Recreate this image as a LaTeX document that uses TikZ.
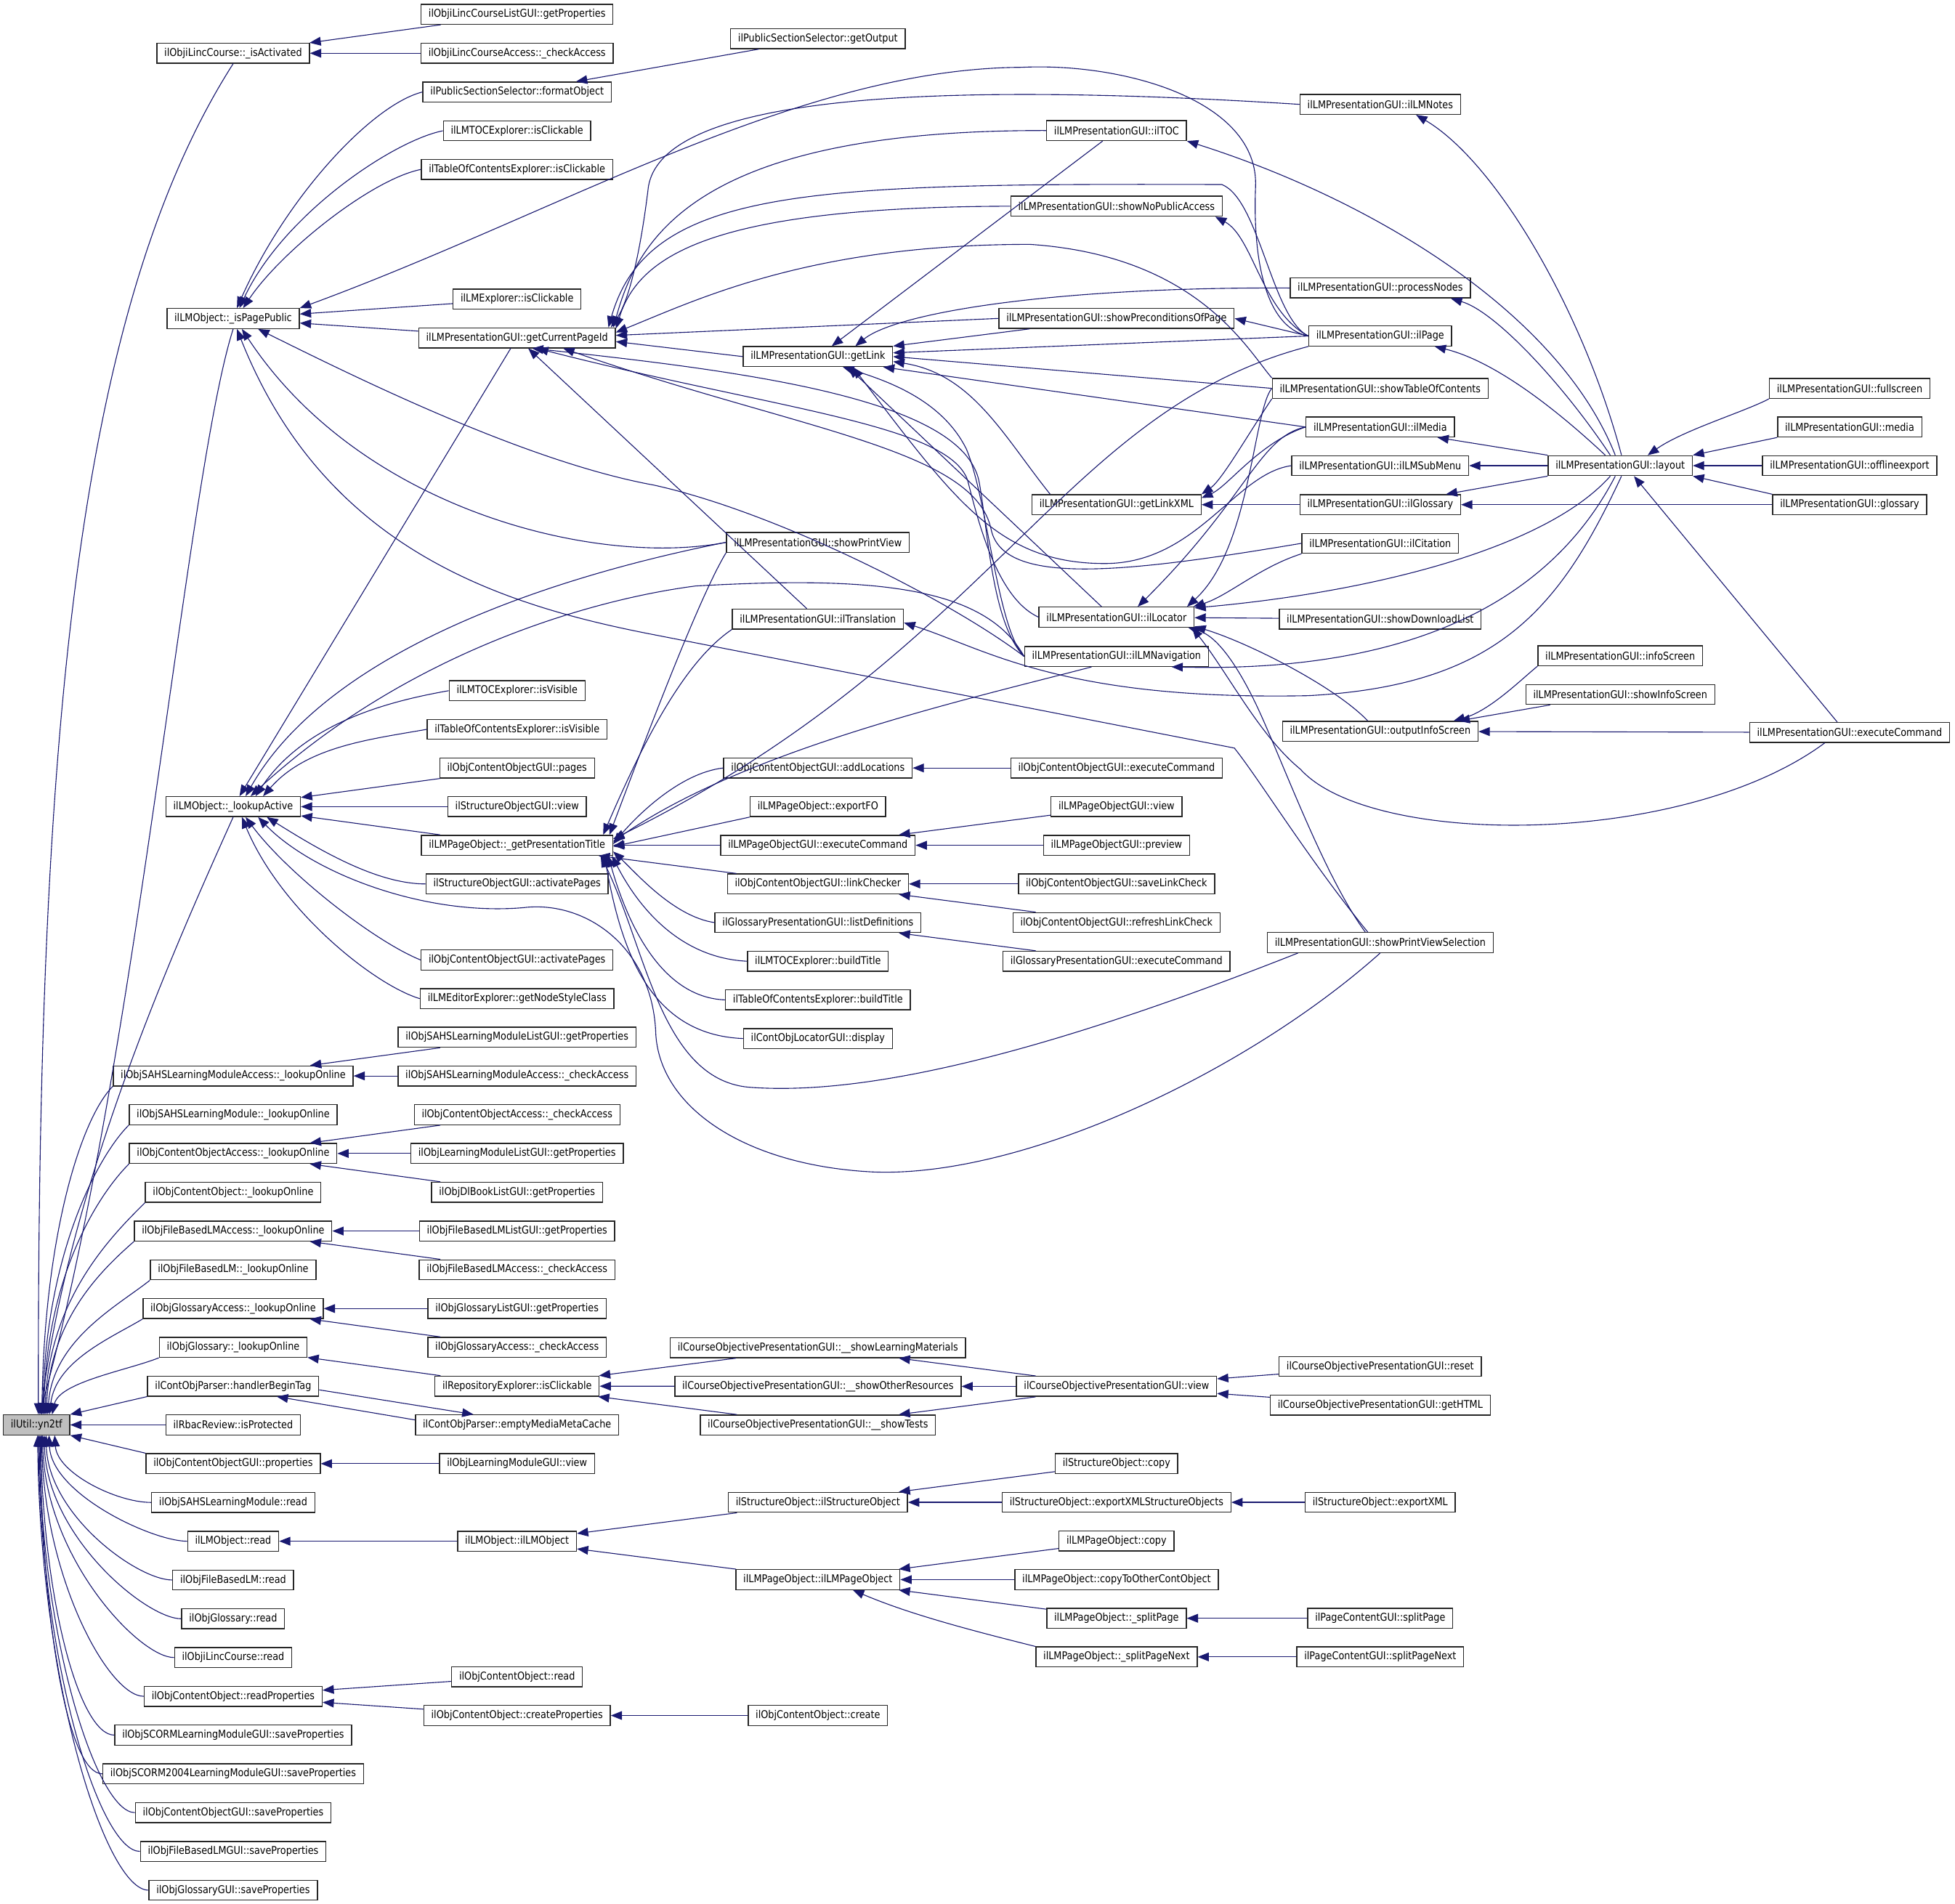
\documentclass[tikz,border=0pt]{standalone}
\usepackage{fontspec}
\newfontfamily\nodefont{DejaVu Sans}[FakeStretch=0.87]
\usetikzlibrary{arrows.meta}
\definecolor{navy}{RGB}{25,25,112}
\tikzset{
 fnode/.style={draw=black!85, fill=white, line width=0.8pt, inner xsep=6pt, inner ysep=0pt, minimum height=16pt, font=\nodefont\fontsize{8.6pt}{10pt}\selectfont},
 cedge/.style={draw=navy, line width=0.65pt, -{Triangle[length=9pt,width=7pt]}},
}
\newcommand\mknd[4]{\node[fnode] (#1) at (#2,-#3) {#4};}
\begin{document}
\begin{tikzpicture}[x=1pt,y=1pt]
\useasboundingbox (0,0) rectangle (1568,-1527);
% ---------- column 1
\node[fnode, fill=black!25] (u) at (29.3,-1142.9) {ilUtil::yn2tf};
% ---------- column 2
\mknd{isAct}{187}{42.7}{ilObjiLincCourse::\_isActivated}
\mknd{isPub}{187}{255.5}{ilLMObject::\_isPagePublic}
\mknd{lookAct}{187}{647}{ilLMObject::\_lookupActive}
\mknd{sahsAccLO}{187}{863}{ilObjSAHSLearningModuleAccess::\_lookupOnline}
\mknd{sahsLO}{187}{894.1}{ilObjSAHSLearningModule::\_lookupOnline}
\mknd{coAccLO}{187}{925.2}{ilObjContentObjectAccess::\_lookupOnline}
\mknd{coLO}{187}{956.3}{ilObjContentObject::\_lookupOnline}
\mknd{fbAccLO}{187}{987.4}{ilObjFileBasedLMAccess::\_lookupOnline}
\mknd{fbLO}{187}{1018.5}{ilObjFileBasedLM::\_lookupOnline}
\mknd{gloAccLO}{187}{1049.6}{ilObjGlossaryAccess::\_lookupOnline}
\mknd{gloLO}{187}{1080.7}{ilObjGlossary::\_lookupOnline}
\mknd{hbt}{187}{1111.8}{ilContObjParser::handlerBeginTag}
\mknd{rbac}{187}{1142.9}{ilRbacReview::isProtected}
\mknd{coguiProp}{187}{1174}{ilObjContentObjectGUI::properties}
\mknd{sahsRead}{187}{1205.1}{ilObjSAHSLearningModule::read}
\mknd{lmoRead}{187}{1236.2}{ilLMObject::read}
\mknd{fbRead}{187}{1267.3}{ilObjFileBasedLM::read}
\mknd{gloRead}{187}{1298.4}{ilObjGlossary::read}
\mknd{lincRead}{187}{1329.5}{ilObjiLincCourse::read}
\mknd{readProp}{187}{1360.6}{ilObjContentObject::readProperties}
\mknd{scormSave}{187}{1391.7}{ilObjSCORMLearningModuleGUI::saveProperties}
\mknd{scorm4Save}{187}{1422.8}{ilObjSCORM2004LearningModuleGUI::saveProperties}
\mknd{coguiSave}{187}{1453.9}{ilObjContentObjectGUI::saveProperties}
\mknd{fbguiSave}{187}{1485}{ilObjFileBasedLMGUI::saveProperties}
\mknd{gloguiSave}{187}{1516.1}{ilObjGlossaryGUI::saveProperties}
% ---------- column 3
\mknd{lincListGP}{414.7}{11.5}{ilObjiLincCourseListGUI::getProperties}
\mknd{lincAcc}{414.7}{42.7}{ilObjiLincCourseAccess::\_checkAccess}
\mknd{formatObj}{414.7}{73.8}{ilPublicSectionSelector::formatObject}
\mknd{lmtocClick}{414.7}{104.9}{ilLMTOCExplorer::isClickable}
\mknd{tocClick}{414.7}{135.9}{ilTableOfContentsExplorer::isClickable}
\mknd{lmexpClick}{414.7}{240}{ilLMExplorer::isClickable}
\mknd{gcp}{414.7}{271}{ilLMPresentationGUI::getCurrentPageId}
\mknd{lmtocVis}{414.7}{554}{ilLMTOCExplorer::isVisible}
\mknd{tocVis}{414.7}{585}{ilTableOfContentsExplorer::isVisible}
\mknd{coguiPages}{414.7}{616}{ilObjContentObjectGUI::pages}
\mknd{sogView}{414.7}{647}{ilStructureObjectGUI::view}
\mknd{gpt}{414.7}{678}{ilLMPageObject::\_getPresentationTitle}
\mknd{sogAct}{414.7}{709}{ilStructureObjectGUI::activatePages}
\mknd{coguiAct}{414.7}{770}{ilObjContentObjectGUI::activatePages}
\mknd{lmeditStyle}{414.7}{801}{ilLMEditorExplorer::getNodeStyleClass}
\mknd{sahsListGP}{414.7}{832}{ilObjSAHSLearningModuleListGUI::getProperties}
\mknd{sahsAcc}{414.7}{863}{ilObjSAHSLearningModuleAccess::\_checkAccess}
\mknd{coAcc}{414.7}{894.1}{ilObjContentObjectAccess::\_checkAccess}
\mknd{lmListGP}{414.7}{925.2}{ilObjLearningModuleListGUI::getProperties}
\mknd{dlbookGP}{414.7}{956.3}{ilObjDlBookListGUI::getProperties}
\mknd{fbListGP}{414.7}{987.4}{ilObjFileBasedLMListGUI::getProperties}
\mknd{fbAcc}{414.7}{1018.5}{ilObjFileBasedLMAccess::\_checkAccess}
\mknd{gloListGP}{414.7}{1049.6}{ilObjGlossaryListGUI::getProperties}
\mknd{gloAcc}{414.7}{1080.7}{ilObjGlossaryAccess::\_checkAccess}
\mknd{repoClick}{414.7}{1111.8}{ilRepositoryExplorer::isClickable}
\mknd{emptyMedia}{414.7}{1142.9}{ilContObjParser::emptyMediaMetaCache}
\mknd{lmguiView}{414.7}{1174}{ilObjLearningModuleGUI::view}
\mknd{lmoCtor}{414.7}{1236.2}{ilLMObject::ilLMObject}
\mknd{coRead}{414.7}{1345}{ilObjContentObject::read}
\mknd{createProp}{414.7}{1376}{ilObjContentObject::createProperties}
% ---------- column 4
\mknd{getOutput}{656}{31}{ilPublicSectionSelector::getOutput}
\mknd{getLink}{656}{286}{ilLMPresentationGUI::getLink}
\mknd{printView}{656}{435}{ilLMPresentationGUI::showPrintView}
\mknd{transl}{656}{496.5}{ilLMPresentationGUI::ilTranslation}
\mknd{addLoc}{656}{616}{ilObjContentObjectGUI::addLocations}
\mknd{exportFO}{656}{647}{ilLMPageObject::exportFO}
\mknd{lmpoguiExec}{656}{678}{ilLMPageObjectGUI::executeCommand}
\mknd{linkCheck}{656}{709}{ilObjContentObjectGUI::linkChecker}
\mknd{listDefs}{656}{740}{ilGlossaryPresentationGUI::listDefinitions}
\mknd{lmtocBuild}{656}{771}{ilLMTOCExplorer::buildTitle}
\mknd{tocBuild}{656}{802}{ilTableOfContentsExplorer::buildTitle}
\mknd{colocDisp}{656}{833}{ilContObjLocatorGUI::display}
\mknd{copShowLM}{656}{1081}{ilCourseObjectivePresentationGUI::\_\_showLearningMaterials}
\mknd{copShowOR}{656}{1112}{ilCourseObjectivePresentationGUI::\_\_showOtherResources}
\mknd{copShowTests}{656}{1143}{ilCourseObjectivePresentationGUI::\_\_showTests}
\mknd{soCtor}{656}{1205}{ilStructureObject::ilStructureObject}
\mknd{lmpoCtor}{656}{1267}{ilLMPageObject::ilLMPageObject}
\mknd{coCreate}{656}{1376}{ilObjContentObject::create}
% ---------- column 5
\mknd{toc}{895.5}{104.7}{ilLMPresentationGUI::ilTOC}
\mknd{noPublic}{895.5}{165.4}{ilLMPresentationGUI::showNoPublicAccess}
\mknd{precond}{895.5}{255.4}{ilLMPresentationGUI::showPreconditionsOfPage}
\mknd{linkXML}{895.5}{404.8}{ilLMPresentationGUI::getLinkXML}
\mknd{locator}{895.5}{495}{ilLMPresentationGUI::ilLocator}
\mknd{lmnav}{895.5}{526.5}{ilLMPresentationGUI::ilLMNavigation}
\mknd{coguiExec}{895.5}{616}{ilObjContentObjectGUI::executeCommand}
\mknd{lmpoguiView}{895.5}{647}{ilLMPageObjectGUI::view}
\mknd{lmpoguiPrev}{895.5}{678}{ilLMPageObjectGUI::preview}
\mknd{saveLC}{895.5}{709}{ilObjContentObjectGUI::saveLinkCheck}
\mknd{refreshLC}{895.5}{740}{ilObjContentObjectGUI::refreshLinkCheck}
\mknd{gloExec}{895.5}{771}{ilGlossaryPresentationGUI::executeCommand}
\mknd{copView}{895.5}{1112}{ilCourseObjectivePresentationGUI::view}
\mknd{soCopy}{895.5}{1174}{ilStructureObject::copy}
\mknd{soExpSO}{895.5}{1205}{ilStructureObject::exportXMLStructureObjects}
\mknd{lmpoCopy}{895.5}{1236}{ilLMPageObject::copy}
\mknd{lmpoCopyOther}{895.5}{1267}{ilLMPageObject::copyToOtherContObject}
\mknd{splitPage}{895.5}{1298}{ilLMPageObject::\_splitPage}
\mknd{splitNext}{895.5}{1329}{ilLMPageObject::\_splitPageNext}
% ---------- column 6
\mknd{notes}{1107}{83.7}{ilLMPresentationGUI::ilLMNotes}
\mknd{procNodes}{1107}{231}{ilLMPresentationGUI::processNodes}
\mknd{page}{1107}{269.5}{ilLMPresentationGUI::ilPage}
\mknd{showTOC}{1107}{311.5}{ilLMPresentationGUI::showTableOfContents}
\mknd{media}{1107}{342.5}{ilLMPresentationGUI::ilMedia}
\mknd{subMenu}{1107}{373.5}{ilLMPresentationGUI::ilLMSubMenu}
\mknd{glossaryM}{1107}{404.8}{ilLMPresentationGUI::ilGlossary}
\mknd{citation}{1107}{435.8}{ilLMPresentationGUI::ilCitation}
\mknd{dlList}{1107}{496.5}{ilLMPresentationGUI::showDownloadList}
\mknd{outInfo}{1107}{586.6}{ilLMPresentationGUI::outputInfoScreen}
\mknd{pvSel}{1107}{756}{ilLMPresentationGUI::showPrintViewSelection}
\mknd{copReset}{1107}{1096}{ilCourseObjectivePresentationGUI::reset}
\mknd{copHTML}{1107}{1127}{ilCourseObjectivePresentationGUI::getHTML}
\mknd{soExpXML}{1107}{1205}{ilStructureObject::exportXML}
\mknd{pcSplit}{1107}{1298}{ilPageContentGUI::splitPage}
\mknd{pcSplitNext}{1107}{1329}{ilPageContentGUI::splitPageNext}
% ---------- column 7
\mknd{layout}{1299.5}{373.5}{ilLMPresentationGUI::layout}
\mknd{infoScr}{1299.5}{526}{ilLMPresentationGUI::infoScreen}
\mknd{showInfoScr}{1299.5}{557}{ilLMPresentationGUI::showInfoScreen}
% ---------- column 8
\mknd{fullscreen}{1483.5}{311.5}{ilLMPresentationGUI::fullscreen}
\mknd{mediaF}{1483.5}{342.5}{ilLMPresentationGUI::media}
\mknd{offline}{1483.5}{373.5}{ilLMPresentationGUI::offlineexport}
\mknd{glossaryF}{1483.5}{404.8}{ilLMPresentationGUI::glossary}
\mknd{lmpExec}{1483.5}{587.5}{ilLMPresentationGUI::executeCommand}

% ================= edges into ilUtil::yn2tf
\draw[cedge] (isAct.south) .. controls (60,-250) and (30,-600) .. (u.80);
\draw[cedge] (isPub.south) .. controls (150,-380) and (110,-850) .. (u.74);
\draw[cedge] (lookAct.south) .. controls (140,-760) and (55,-950) .. (u.68);
\draw[cedge] (sahsAccLO.south west) .. controls +(-25,-25) and +(2,145) .. (u.63);
\draw[cedge] (sahsLO.south west) .. controls +(-25,-25) and +(2,128) .. (u.59);
\draw[cedge] (coAccLO.south west) .. controls +(-25,-25) and +(2,111) .. (u.55);
\draw[cedge] (coLO.south west) .. controls +(-25,-25) and +(3,94) .. (u.51);
\draw[cedge] (fbAccLO.south west) .. controls +(-25,-22) and +(3,77) .. (u.47);
\draw[cedge] (fbLO.south west) .. controls +(-25,-20) and +(4,60) .. (u.43);
\draw[cedge] (gloAccLO.south west) .. controls +(-25,-15) and +(5,43) .. (u.39);
\draw[cedge] (gloLO.south west) .. controls +(-25,-10) and +(6,26) .. (u.34);
\draw[cedge] (hbt.south west) -- (u.north east);
\draw[cedge] (rbac) -- (u);
\draw[cedge] (coguiProp.north west) -- (u.south east);
\draw[cedge] (sahsRead.west) .. controls +(-28,0) and +(2,-30) .. (u.-30);
\draw[cedge] (lmoRead.west) .. controls +(-28,0) and +(2,-47) .. (u.-40);
\draw[cedge] (fbRead.west) .. controls +(-28,0) and +(2,-64) .. (u.-48);
\draw[cedge] (gloRead.west) .. controls +(-28,0) and +(2,-81) .. (u.-54);
\draw[cedge] (lincRead.west) .. controls +(-28,0) and +(2,-98) .. (u.-60);
\draw[cedge] (readProp.west) .. controls +(-28,0) and +(2,-115) .. (u.-64);
\draw[cedge] (scormSave.west) .. controls +(-28,0) and +(2,-132) .. (u.-68);
\draw[cedge] (scorm4Save.west) .. controls +(-28,0) and +(2,-149) .. (u.-72);
\draw[cedge] (coguiSave.west) .. controls +(-30,0) and +(2,-166) .. (u.-76);
\draw[cedge] (fbguiSave.west) .. controls +(-32,0) and +(2,-184) .. (u.-80);
\draw[cedge] (gloguiSave.west) .. controls +(-34,0) and +(2,-201) .. (u.-84);

% ================= _isActivated / formatObject
\draw[cedge] (lincListGP) -- (isAct);
\draw[cedge] (lincAcc) -- (isAct);
\draw[cedge] (getOutput) -- (formatObj);

% ================= _isPagePublic
\draw[cedge] (formatObj.west) .. controls +(-40,-10) and +(40,90) .. ([xshift=3pt]isPub.north);
\draw[cedge] (lmtocClick.west) .. controls +(-40,-8) and +(35,75) .. ([xshift=5pt]isPub.north);
\draw[cedge] (tocClick.west) .. controls +(-40,-8) and +(30,45) .. ([xshift=8pt]isPub.north);
\draw[cedge] (lmexpClick) -- (isPub);
\draw[cedge] (gcp) -- (isPub);
\draw[cedge] (page.west) .. controls (1012,-262) and (1005,-200) .. (1007,-150) .. controls (1010,-80) and (900,-50) .. (819,-54) .. controls (640,-55) and (450,-170) .. (isPub.north east);
\draw[cedge] (printView.west) .. controls (480,-455) and (290,-410) .. ([xshift=7pt]isPub.south);
\draw[cedge] (lmnav.west) .. controls (760,-480) and (620,-410) .. (524,-389) .. controls (420,-370) and (280,-300) .. ([xshift=20pt]isPub.south);
\draw[cedge] ([xshift=-10pt]pvSel.north) .. controls (1050,-690) and (1010,-625) .. (990,-600) -- (524,-509) .. controls (400,-485) and (260,-440) .. ([xshift=3pt]isPub.south);

% ================= getCurrentPageId
\draw[cedge] (notes.west) .. controls (700,-62) and (530,-85) .. (520,-150) .. controls (514,-200) and (505,-240) .. ([xshift=-4pt]gcp.north east);
\draw[cedge] (toc.west) .. controls (560,-104) and (512,-190) .. ([xshift=-2pt]gcp.north east);
\draw[cedge] (noPublic.west) .. controls (570,-166) and (512,-205) .. ([yshift=-1pt]gcp.north east);
\draw[cedge] (page.west) .. controls (1020,-255) and (1010,-160) .. (980,-148) .. controls (650,-147) and (520,-150) .. ([xshift=-6pt]gcp.north east);
\draw[cedge] (showTOC.north west) .. controls (1000,-280) and (960,-205) .. (826,-196) .. controls (650,-196) and (560,-240) .. ([yshift=-4pt]gcp.north east);
\draw[cedge] (precond.west) -- ([yshift=2pt]gcp.east);
\draw[cedge] (getLink.west) -- ([yshift=-3pt]gcp.east);
\draw[cedge] (transl) -- (gcp);
\draw[cedge] (lmnav.west) .. controls (795,-500) and (792,-420) .. (785,-385) .. controls (770,-320) and (600,-298) .. ([xshift=12pt]gcp.south);
\draw[cedge] (locator.west) .. controls (800,-480) and (785,-420) .. (776,-385) .. controls (760,-340) and (620,-328) .. ([xshift=16pt]gcp.south);
\draw[cedge] (citation.west) .. controls (900,-460) and (805,-470) .. (795,-425) .. controls (782,-360) and (640,-345) .. ([xshift=37pt]gcp.south);

% ================= _lookupActive
\draw[cedge] (gcp) -- (lookAct);
\draw[cedge] (printView.west) .. controls (480,-455) and (270,-510) .. ([xshift=10pt]lookAct.north);
\draw[cedge] (lmnav.west) .. controls (790,-470) and (700,-462) .. (558,-470) .. controls (480,-480) and (330,-520) .. ([xshift=14pt]lookAct.north);
\draw[cedge] (lmtocVis.west) .. controls +(-45,-8) and +(40,60) .. ([xshift=18pt]lookAct.north);
\draw[cedge] (tocVis.west) .. controls +(-45,-8) and +(35,40) .. ([xshift=24pt]lookAct.north);
\draw[cedge] (coguiPages) -- (lookAct);
\draw[cedge] (sogView) -- (lookAct);
\draw[cedge] (gpt) -- (lookAct);
\draw[cedge] (sogAct.west) .. controls +(-40,0) and +(40,-25) .. ([xshift=27pt]lookAct.south);
\draw[cedge] (coguiAct.west) .. controls (300,-755) and (230,-700) .. ([xshift=10pt]lookAct.south);
\draw[cedge] (lmeditStyle.west) .. controls (300,-790) and (225,-730) .. ([xshift=7pt]lookAct.south);
\draw[cedge] (pvSel.south) .. controls (1000,-860) and (820,-945) .. (700,-940) .. controls (600,-935) and (530,-890) .. (526,-830) .. controls (524,-760) and (470,-722) .. (420,-728) .. controls (340,-735) and (250,-700) .. ([xshift=20pt]lookAct.south);

% ================= _getPresentationTitle
\draw[cedge] (transl.south west) .. controls (550,-530) and (518,-590) .. ([xshift=-8pt]gpt.north east);
\draw[cedge] (printView.south west) .. controls (560,-480) and (515,-600) .. ([xshift=-3pt]gpt.north east);
\draw[cedge] (page.south west) .. controls (850,-330) and (800,-520) .. ([yshift=5pt]gpt.east);
\draw[cedge] ([xshift=-20pt]lmnav.south) .. controls (780,-560) and (600,-600) .. ([yshift=3pt]gpt.east);
\draw[cedge] (addLoc.west) .. controls (545,-620) and (510,-655) .. ([yshift=1pt]gpt.east);
\draw[cedge] (exportFO.south west) -- ([yshift=-1pt]gpt.east);
\draw[cedge] (lmpoguiExec) -- (gpt);
\draw[cedge] (linkCheck) -- (gpt);
\draw[cedge] (listDefs.west) .. controls (540,-735) and (510,-700) .. ([yshift=-5pt]gpt.east);
\draw[cedge] (lmtocBuild.west) .. controls (540,-768) and (508,-720) .. ([xshift=-1pt]gpt.south east);
\draw[cedge] (tocBuild.west) .. controls (530,-800) and (503,-740) .. ([xshift=-4pt]gpt.south east);
\draw[cedge] (colocDisp.west) .. controls (520,-830) and (498,-760) .. ([xshift=-7pt]gpt.south east);
\draw[cedge] ([xshift=25pt]pvSel.south west) .. controls (850,-840) and (700,-880) .. (600,-872) .. controls (530,-865) and (518,-760) .. ([xshift=-10pt]gpt.south east);

% ================= getLink
\draw[cedge] (toc) -- (getLink);
\draw[cedge] (procNodes.west) .. controls (850,-230) and (720,-250) .. ([xshift=30pt]getLink.north);
\draw[cedge] ([xshift=25pt]precond.south west) -- (getLink.north east);
\draw[cedge] (page.west) -- ([yshift=3pt]getLink.east);
\draw[cedge] (showTOC.west) -- (getLink.east);
\draw[cedge] (media.west) -- ([xshift=-8pt]getLink.south east);
\draw[cedge] ([xshift=15pt]linkXML.north west) .. controls (805,-350) and (780,-300) .. ([yshift=-4pt]getLink.east);
\draw[cedge] ([xshift=-12pt]locator.north) -- ([xshift=24pt]getLink.south);
\draw[cedge] (lmnav.west) .. controls (800,-505) and (792,-400) .. (775,-360) .. controls (755,-320) and (710,-305) .. ([xshift=20pt]getLink.south);
\draw[cedge] (subMenu.west) .. controls (990,-380) and (960,-452) .. (886,-452) .. controls (800,-452) and (765,-400) .. ([xshift=28pt]getLink.south);

% ================= getLinkXML
\draw[cedge] (showTOC.south west) .. controls (1000,-350) and (980,-385) .. (linkXML.north east);
\draw[cedge] (media.west) .. controls (1010,-355) and (985,-390) .. ([yshift=-3pt]linkXML.north east);
\draw[cedge] (glossaryM) -- (linkXML);

% ================= ilLocator
\draw[cedge] (media.west) .. controls (1010,-350) and (1000,-400) .. ([xshift=17pt]locator.north);
\draw[cedge] (showTOC.west) .. controls (1005,-330) and (1003,-440) .. ([xshift=-6pt]locator.north east);
\draw[cedge] (citation.south west) .. controls (1010,-455) and (985,-478) .. ([xshift=-1pt]locator.north east);
\draw[cedge] ([xshift=-8pt]layout.south) .. controls (1240,-440) and (1100,-475) .. ([yshift=-1pt]locator.north east);
\draw[cedge] (dlList) -- (locator);
\draw[cedge] ([xshift=-10pt]outInfo.north) .. controls (1070,-550) and (1000,-515) .. ([yshift=1pt]locator.south east);
\draw[cedge] ([xshift=-20pt]lmpExec.south) .. controls (1350,-680) and (1100,-680) .. (1043,-617) .. controls (1010,-590) and (985,-540) .. ([xshift=-2pt]locator.south east);
\draw[cedge] ([xshift=-12pt]pvSel.north) .. controls (1060,-700) and (1025,-600) .. (1005,-560) .. controls (990,-530) and (975,-510) .. ([xshift=-5pt]locator.south east);

% ================= layout and its callees
\draw[cedge] ([xshift=-4pt]layout.south) .. controls (1250,-470) and (1150,-540) .. ([xshift=-30pt]lmnav.south east);
\draw[cedge] ([xshift=1pt]layout.south) .. controls (1250,-490) and (1200,-550) .. (1049,-558) .. controls (850,-562) and (790,-520) .. ([yshift=-3pt]transl.east);
\draw[cedge] ([xshift=1pt]layout.north) .. controls (1270,-250) and (1200,-130) .. ([xshift=-36pt]notes.south east);
\draw[cedge] ([xshift=-4pt]layout.north) .. controls (1250,-250) and (1100,-160) .. (toc.south east);
\draw[cedge] ([xshift=-8pt]layout.north) .. controls (1255,-310) and (1200,-250) .. ([xshift=-16pt]procNodes.south east);
\draw[cedge] ([xshift=-12pt]layout.north) .. controls (1250,-330) and (1200,-290) .. ([xshift=-14pt]page.south east);
\draw[cedge] (layout.north west) -- ([xshift=-14pt]media.south east);
\draw[cedge] (layout) -- (subMenu);
\draw[cedge] (layout.south west) -- ([xshift=-12pt]glossaryM.north east);
\draw[cedge] (glossaryF) -- (glossaryM);
\draw[cedge] (fullscreen.south west) .. controls (1400,-330) and (1350,-345) .. ([xshift=22pt]layout.north);
\draw[cedge] (mediaF.south west) -- (layout.north east);
\draw[cedge] (offline) -- (layout);
\draw[cedge] (glossaryF.north west) -- (layout.south east);
\draw[cedge] ([xshift=-10pt]lmpExec.north) -- ([xshift=11pt]layout.south);

% ================= outputInfoScreen
\draw[cedge] (lmpExec) -- (outInfo);
\draw[cedge] (infoScr.south west) .. controls (1220,-545) and (1195,-570) .. ([xshift=-20pt]outInfo.north east);
\draw[cedge] ([xshift=20pt]showInfoScr.south west) -- ([xshift=-16pt]outInfo.north east);

% ================= ilPage callees
\draw[cedge] (page.west) .. controls (1012,-250) and (1005,-190) .. ([xshift=-6pt]noPublic.south east);
\draw[cedge] (page.west) -- (precond.east);

% ================= straightforward pairs
\draw[cedge] (coguiExec) -- (addLoc);
\draw[cedge] (lmpoguiView) -- (lmpoguiExec);
\draw[cedge] (lmpoguiPrev) -- (lmpoguiExec);
\draw[cedge] (saveLC) -- (linkCheck);
\draw[cedge] (refreshLC) -- (linkCheck);
\draw[cedge] (gloExec) -- (listDefs);
\draw[cedge] (sahsListGP) -- (sahsAccLO);
\draw[cedge] (sahsAcc) -- (sahsAccLO);
\draw[cedge] (coAcc) -- (coAccLO);
\draw[cedge] (lmListGP) -- (coAccLO);
\draw[cedge] (dlbookGP) -- (coAccLO);
\draw[cedge] (fbListGP) -- (fbAccLO);
\draw[cedge] (fbAcc) -- (fbAccLO);
\draw[cedge] (gloListGP) -- (gloAccLO);
\draw[cedge] (gloAcc) -- (gloAccLO);
\draw[cedge] (repoClick) -- (gloLO);
\draw[cedge] ([yshift=-3pt]hbt.east) -- ([xshift=-35pt]emptyMedia.north);
\draw[cedge] ([yshift=4pt]emptyMedia.west) -- ([xshift=35pt]hbt.south);
\draw[cedge] (copShowLM) -- (repoClick);
\draw[cedge] (copShowOR) -- (repoClick);
\draw[cedge] (copShowTests) -- (repoClick);
\draw[cedge] (copView) -- (copShowLM);
\draw[cedge] (copView) -- (copShowOR);
\draw[cedge] (copView) -- (copShowTests);
\draw[cedge] (copReset) -- (copView);
\draw[cedge] (copHTML) -- (copView);
\draw[cedge] (lmguiView) -- (coguiProp);
\draw[cedge] (lmoCtor) -- (lmoRead);
\draw[cedge] (soCtor) -- (lmoCtor);
\draw[cedge] (lmpoCtor) -- (lmoCtor);
\draw[cedge] (soCopy) -- (soCtor);
\draw[cedge] (soExpSO) -- (soCtor);
\draw[cedge] (soExpXML) -- (soExpSO);
\draw[cedge] (lmpoCopy) -- (lmpoCtor);
\draw[cedge] (lmpoCopyOther) -- (lmpoCtor);
\draw[cedge] (splitPage) -- (lmpoCtor);
\draw[cedge] (splitNext.north west) .. controls (780,-1308) and (730,-1295) .. ([xshift=28pt]lmpoCtor.south);
\draw[cedge] (pcSplit) -- (splitPage);
\draw[cedge] (pcSplitNext) -- (splitNext);
\draw[cedge] (coRead) -- (readProp);
\draw[cedge] (createProp) -- (readProp);
\draw[cedge] (coCreate) -- (createProp);
\end{tikzpicture}
\end{document}
